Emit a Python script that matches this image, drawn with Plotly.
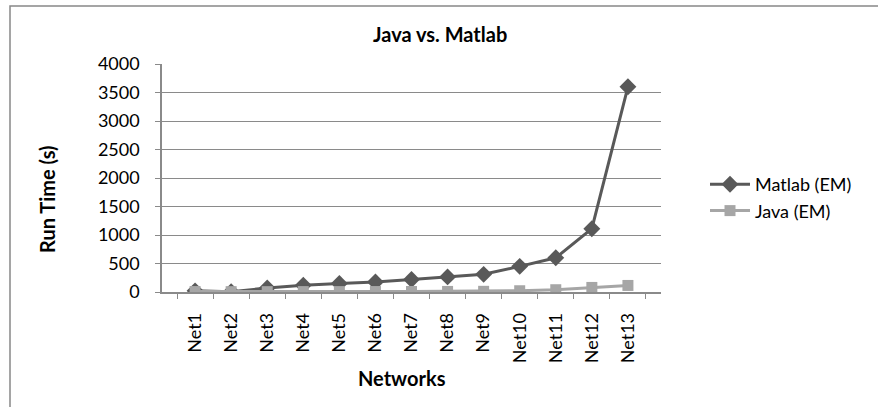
import plotly.graph_objects as go

categories = ["Net1", "Net2", "Net3", "Net4", "Net5", "Net6", "Net7",
              "Net8", "Net9", "Net10", "Net11", "Net12", "Net13"]
matlab_em = [20, 5, 70, 120, 150, 175, 220, 265, 310, 450, 600, 1110, 3600]
java_em = [8, 6, 6, 7, 7, 8, 9, 10, 12, 22, 40, 80, 115]
y_ticks = [0, 500, 1000, 1500, 2000, 2500, 3000, 3500, 4000]

FONT = "Lato, 'Open Sans', 'Liberation Sans', sans-serif"
GRID = "#8a8a8a"

L, R, T, B = 162, 878 - 661, 64, 407 - 292
W, H = 878, 407
pw, ph = W - L - R, H - T - B

def px_x(p):
    return (p - L) / pw

def px_y(p):
    return (H - B - p) / ph

fig = go.Figure()
fig.add_trace(go.Scatter(
    x=categories, y=matlab_em, name="Matlab (EM)", mode="lines+markers",
    legendgroup="m",
    line=dict(color="#595959", width=3),
    marker=dict(symbol="diamond", size=13, color="#595959"),
))
fig.add_trace(go.Scatter(
    x=categories, y=java_em, name="Java (EM)", mode="lines+markers",
    legendgroup="j",
    line=dict(color="#a6a6a6", width=3),
    marker=dict(symbol="square", size=11, color="#a6a6a6"),
))

fig.update_layout(
    width=W, height=H,
    margin=dict(l=L, r=R, t=T, b=B, autoexpand=False),
    paper_bgcolor="white", plot_bgcolor="white",
    font=dict(family=FONT, size=18, color="#000"),
    showlegend=True,
    legend=dict(x=px_x(705), y=px_y(166), xanchor="left", yanchor="top",
                font=dict(size=18), bgcolor="rgba(0,0,0,0)",
                tracegroupgap=0, itemwidth=40),
    xaxis=dict(
        type="category", tickangle=-90, ticks="outside", ticklen=5,
        tickson="boundaries", tickcolor=GRID, showline=True, linecolor=GRID,
        linewidth=1.5, showgrid=False, tickfont=dict(size=18), zeroline=False,
        automargin=False, ticklabelstandoff=12,
    ),
    yaxis=dict(
        range=[0, 4000], tickvals=y_ticks, ticks="outside", ticklen=5,
        tickcolor=GRID, showline=True, linecolor=GRID, linewidth=1.5,
        showgrid=True, gridcolor=GRID, gridwidth=1.2, zeroline=False,
        tickfont=dict(size=18), ticklabelstandoff=12, automargin=False,
    ),
    annotations=[
        dict(text="<b>Java vs. Matlab</b>", x=px_x(440), y=px_y(34),
             xref="paper", yref="paper", showarrow=False,
             font=dict(size=20), xanchor="center", yanchor="middle"),
        dict(text="<b>Networks</b>", x=px_x(402), y=px_y(378),
             xref="paper", yref="paper", showarrow=False,
             font=dict(size=20), xanchor="center", yanchor="middle"),
        dict(text="<b>Run Time (s)</b>", x=px_x(47), y=px_y(199),
             xref="paper", yref="paper", showarrow=False, textangle=-90,
             font=dict(size=20), xanchor="center", yanchor="middle"),
    ],
    shapes=[
        dict(type="rect", xref="paper", yref="paper",
             x0=px_x(10), x1=px_x(900), y0=px_y(6), y1=px_y(430),
             line=dict(color="#888888", width=1.5), layer="below"),
    ],
)

fig.write_html("out.html")
